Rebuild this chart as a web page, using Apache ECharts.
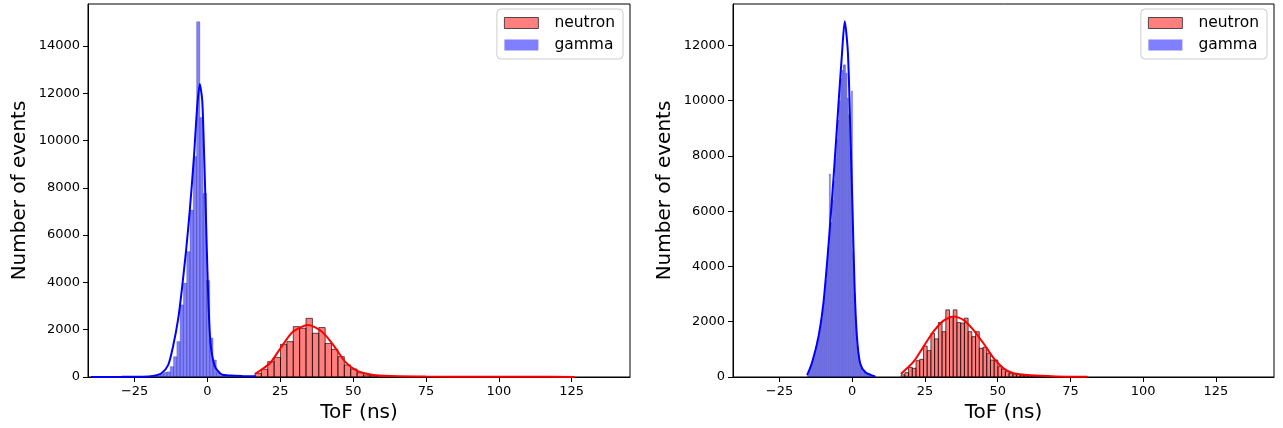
<!DOCTYPE html>
<html><head><meta charset="utf-8">
<script src="https://cdn.jsdelivr.net/npm/echarts@6/dist/echarts.min.js"></script>
<style>html,body{margin:0;padding:0;background:#fff}#c{width:1283px;height:428px}</style>
</head><body><div id="c"></div>
<script>
// ---- tick labels ----
const xTicks = [-25, 0, 25, 50, 75, 100, 125];
const yTicksLeft = [0, 2000, 4000, 6000, 8000, 10000, 12000, 14000];
const yTicksRight = [0, 2000, 4000, 6000, 8000, 10000, 12000];
const seriesNames = ['neutron', 'gamma'];

// ---- left panel: histogram bins (start, width) and counts ----
const leftGammaStart = -39.9, leftGammaWidth = 1.13;
const leftGammaCounts = [2,1,2,3,3,4,5,6,7,8,10,12,14,16,20,25,30,40,55,75,100,140,200,220,440,860,1500,3050,3970,5300,7060,9320,15020,10970,7770,4080,1650,720,225,60,40,35,30,30,28,25,25,22,20,20];
const leftNeutronStart = 16.3, leftNeutronWidth = 2.19;
const leftNeutronCounts = [155,325,650,830,1380,1495,2130,2060,2480,1850,2090,1420,1170,860,510,340,180,85,60,45,32,25,20,16,13,11,9,8,7,6,5,5,4,4,3,3,3,2,2,2,2,2,1,1,1,1,1,1,1,1];
// KDE curves
const leftGammaKdeX = [-40,-30,-22,-18.7,-15.8,-13.5,-11.8,-10,-8.7,-7.3,-6.1,-4.7,-3.6,-2.65,-1.8,-1.2,-0.6,0.1,1.0,2.5,4.8,8,12,16.6];
const leftGammaKdeY = [2,5,15,45,160,500,1300,2500,3800,5400,7000,9200,11300,12390,11700,9600,7100,4000,1500,460,110,60,40,30];
const leftNeutronKdeX = [16.3,21.4,25.4,29.4,34.6,39.2,43.2,47.2,51.2,56.9,62.6,75,90,110,126];
const leftNeutronKdeY = [127,580,1280,1920,2200,1920,1350,650,270,85,40,20,12,8,5];

// ---- right panel ----
const rightGammaStart = -15.5, rightGammaWidth = 0.474;
const rightGammaCounts = [60,230,380,520,700,900,1100,1350,1500,1750,2100,2500,2900,3500,4100,4700,7350,5600,6400,7100,7900,8600,9300,10000,10800,11100,11300,11300,11000,10100,9500,8200,10350,4500,3000,1900,1150,700,450,330,240,180,150,120,95,75,60,45,30,15];
const rightNeutronStart = 16.8, rightNeutronWidth = 1.28;
const rightNeutronCounts = [80,157,350,315,590,640,1120,955,1580,1380,1970,1640,2430,2190,2430,1970,1950,2130,1640,1460,1640,1040,1080,860,615,615,375,290,195,130,85,85,60,50,40,30,25,20,15,12,10,8,6,5,4,3,3,2,2,1];
const rightGammaKdeX = [-15.5,-13.9,-11.6,-9.9,-8.1,-6.4,-4.7,-3.5,-2.6,-1.5,-0.7,0.1,0.8,1.6,2.7,4.5,6.8,7.9];
const rightGammaKdeY = [70,500,1460,2680,4860,7260,9930,11750,12880,11750,9080,6050,3270,1460,500,170,60,20];
const rightNeutronKdeX = [16.7,21.1,24.5,27.9,31.4,34.8,38.2,41.7,45.1,48.6,52.0,55.4,61.2,70,80.8];
const rightNeutronKdeY = [110,555,1100,1640,2040,2190,2070,1700,1220,680,315,135,60,20,5];

// ---- styles ----
const FONT = 'DejaVu Sans';
const neutronFill = 'rgba(255,0,0,0.5)', neutronEdge = 'rgba(0,0,0,0.65)';
const gammaFill = 'rgba(0,0,255,0.5)', gammaEdge = 'rgba(0,0,60,0.25)';

function hist(name, start, width, counts, idx, fill, stroke, lw) {
  const data = counts.map((c, i) => [start + i * width, start + (i + 1) * width, c]);
  return {
    type: 'custom', name, xAxisIndex: idx, yAxisIndex: idx, data, z: 2,
    encode: { x: [0, 1], y: 2 },
    itemStyle: { color: fill },
    renderItem: (params, api) => {
      const p0 = api.coord([api.value(0), api.value(2)]);
      const p1 = api.coord([api.value(1), 0]);
      return { type: 'rect', shape: { x: p0[0], y: p0[1], width: p1[0] - p0[0], height: p1[1] - p0[1] },
               style: { fill, stroke, lineWidth: lw } };
    }
  };
}
function kde(xs, ys, idx, color) {
  return { type: 'line', xAxisIndex: idx, yAxisIndex: idx, data: xs.map((x, i) => [x, ys[i]]),
    smooth: 0.25, showSymbol: false, symbol: 'none', z: 3, silent: true,
    lineStyle: { color, width: 2 } };
}
const fmt = v => (v < 0 ? '\u2212' + Math.abs(v) : String(v));
function xAxis(idx) {
  return { type: 'value', gridIndex: idx, min: -41, max: 145, name: 'ToF (ns)', nameLocation: 'middle', nameGap: 22,
    nameTextStyle: { fontSize: 20, color: '#000', fontFamily: FONT },
    axisLine: { show: true, onZero: false, lineStyle: { color: '#000', width: 1 } },
    axisTick: { show: true, length: 5, lineStyle: { color: '#000' }, customValues: xTicks },
    axisLabel: { color: '#000', fontSize: 13, fontFamily: FONT, margin: 8, customValues: xTicks, formatter: fmt },
    splitLine: { show: false } };
}
function yAxis(idx, max, ticks) {
  return { type: 'value', gridIndex: idx, min: 0, max, name: 'Number of events', nameLocation: 'middle', nameGap: 58,
    nameTextStyle: { fontSize: 20, color: '#000', fontFamily: FONT },
    axisLine: { show: true, onZero: false, lineStyle: { color: '#000', width: 1 } },
    axisTick: { show: true, length: 5, lineStyle: { color: '#000' }, customValues: ticks },
    axisLabel: { color: '#000', fontSize: 13, fontFamily: FONT, margin: 8, customValues: ticks, formatter: fmt },
    splitLine: { show: false } };
}
function legend(right) {
  return { right, top: 9, orient: 'vertical', selectedMode: false, itemWidth: 34, itemHeight: 11, itemGap: 6,
    backgroundColor: 'rgba(255,255,255,0.8)', borderColor: '#cccccc', borderWidth: 1, borderRadius: 4,
    padding: [6, 8, 6, 7],
    textStyle: { fontSize: 15.5, color: '#000', fontFamily: FONT, lineHeight: 16, padding: [0, 0, 0, 11] },
    data: [
      { name: seriesNames[0], icon: 'rect', itemStyle: { color: neutronFill, borderColor: neutronEdge, borderWidth: 1 } },
      { name: seriesNames[1], icon: 'rect', itemStyle: { color: gammaFill, borderWidth: 0 } }
    ] };
}

const chart = echarts.init(document.getElementById('c'), null, { renderer: 'canvas' });
chart.setOption({
  animation: false,
  backgroundColor: '#fff',
  grid: [
    { left: 88, right: 653, top: 4, bottom: 51, show: true, borderColor: '#000', borderWidth: 1, backgroundColor: 'transparent' },
    { left: 733, right: 9, top: 4, bottom: 51, show: true, borderColor: '#000', borderWidth: 1, backgroundColor: 'transparent' }
  ],
  xAxis: [xAxis(0), xAxis(1)],
  yAxis: [yAxis(0, 15770, yTicksLeft), yAxis(1, 13500, yTicksRight)],
  legend: [legend(660), legend(16)],
  series: [
    hist(seriesNames[0], leftNeutronStart, leftNeutronWidth, leftNeutronCounts, 0, neutronFill, neutronEdge, 1),
    kde(leftNeutronKdeX, leftNeutronKdeY, 0, '#ff0000'),
    hist(seriesNames[1], leftGammaStart, leftGammaWidth, leftGammaCounts, 0, gammaFill, gammaEdge, 0.8),
    kde(leftGammaKdeX, leftGammaKdeY, 0, '#0000ff'),
    hist(seriesNames[0], rightNeutronStart, rightNeutronWidth, rightNeutronCounts, 1, neutronFill, neutronEdge, 1),
    kde(rightNeutronKdeX, rightNeutronKdeY, 1, '#ff0000'),
    hist(seriesNames[1], rightGammaStart, rightGammaWidth, rightGammaCounts, 1, gammaFill, gammaEdge, 0.5),
    kde(rightGammaKdeX, rightGammaKdeY, 1, '#0000ff')
  ]
});
</script></body></html>
